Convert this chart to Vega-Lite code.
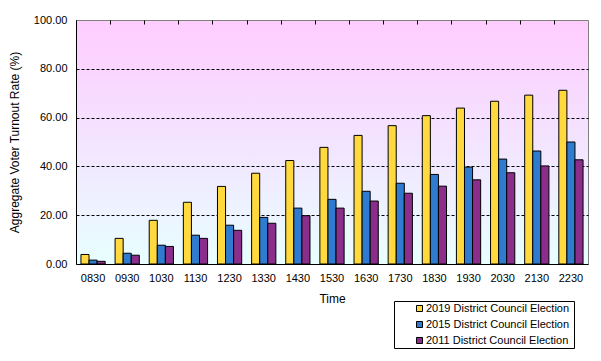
{
  "$schema": "https://vega.github.io/schema/vega-lite/v6.json",
  "width": 512,
  "height": 244,
  "autosize": "none",
  "padding": {"left": 76, "top": 20, "right": 13, "bottom": 97},
  "background": "white",
  "config": {
    "font": "Liberation Sans",
    "view": {
      "stroke": "#808080",
      "strokeWidth": 1,
      "fill": {"gradient": "linear", "x1": 0, "y1": 0, "x2": 0, "y2": 1,
        "stops": [{"offset": 0, "color": "#FFCCFF"}, {"offset": 0.5, "color": "#F3E4FF"}, {"offset": 1, "color": "#E8FFFF"}]}
    }
  },
  "data": {"values": [
    {"time": "0830", "2019 District Council Election": 3.9, "2015 District Council Election": 1.6, "2011 District Council Election": 1.1},
    {"time": "0930", "2019 District Council Election": 10.5, "2015 District Council Election": 4.4, "2011 District Council Election": 3.6},
    {"time": "1030", "2019 District Council Election": 17.9, "2015 District Council Election": 7.7, "2011 District Council Election": 7.2},
    {"time": "1130", "2019 District Council Election": 25.3, "2015 District Council Election": 11.8, "2011 District Council Election": 10.5},
    {"time": "1230", "2019 District Council Election": 31.8, "2015 District Council Election": 15.9, "2011 District Council Election": 13.8},
    {"time": "1330", "2019 District Council Election": 37.2, "2015 District Council Election": 19.1, "2011 District Council Election": 16.7},
    {"time": "1430", "2019 District Council Election": 42.4, "2015 District Council Election": 22.9, "2011 District Council Election": 19.8},
    {"time": "1530", "2019 District Council Election": 47.8, "2015 District Council Election": 26.5, "2011 District Council Election": 22.9},
    {"time": "1630", "2019 District Council Election": 52.7, "2015 District Council Election": 29.8, "2011 District Council Election": 25.8},
    {"time": "1730", "2019 District Council Election": 56.7, "2015 District Council Election": 33.1, "2011 District Council Election": 29.0},
    {"time": "1830", "2019 District Council Election": 60.8, "2015 District Council Election": 36.7, "2011 District Council Election": 31.9},
    {"time": "1930", "2019 District Council Election": 63.9, "2015 District Council Election": 39.7, "2011 District Council Election": 34.5},
    {"time": "2030", "2019 District Council Election": 66.7, "2015 District Council Election": 43.0, "2011 District Council Election": 37.4},
    {"time": "2130", "2019 District Council Election": 69.2, "2015 District Council Election": 46.3, "2011 District Council Election": 40.2},
    {"time": "2230", "2019 District Council Election": 71.2, "2015 District Council Election": 50.0, "2011 District Council Election": 42.7}
  ]},
  "transform": [
    {"fold": ["2019 District Council Election", "2015 District Council Election", "2011 District Council Election"], "as": ["election", "rate"]}
  ],
  "layer": [
    {
      "mark": {"type": "bar", "stroke": "black", "strokeWidth": 1},
      "encoding": {
        "x": {
          "field": "time", "type": "nominal", "sort": null,
          "scale": {"paddingInner": 0.29, "paddingOuter": 0.145},
          "axis": {"title": "Time", "labelAngle": 0, "ticks": false, "domainColor": "black",
            "labelFontSize": 11, "labelColor": "black", "labelPadding": 8,
            "titleFontSize": 12, "titleFontWeight": "normal", "titleColor": "black", "titlePadding": 10}
        },
        "xOffset": {"field": "election", "type": "nominal", "sort": null, "scale": {"paddingInner": 0, "paddingOuter": 0}},
        "y": {
          "field": "rate", "type": "quantitative",
          "scale": {"domain": [0, 100], "nice": false},
          "axis": {"title": "Aggregate Voter Turnout Rate (%)", "format": ".2f", "values": [0, 20, 40, 60, 80, 100],
            "ticks": false, "grid": true, "gridColor": "black", "gridDash": [3, 2], "gridWidth": 1,
            "gridOpacity": {"condition": {"test": "datum.value == 0 || datum.value == 100", "value": 0}, "value": 1},
            "domainColor": "black", "labelFontSize": 11, "labelColor": "black", "labelPadding": 9,
            "titleFontSize": 12, "titleFontWeight": "normal", "titleColor": "black", "titlePadding": 12}
        },
        "color": {
          "field": "election", "type": "nominal", "sort": null,
          "scale": {"range": ["#FFD93D", "#2E7BCF", "#8B2D8B"]},
          "legend": {"orient": "none", "legendX": 318, "legendY": 281, "title": "\u00a0",
            "titleOrient": "right", "titlePadding": 3, "titleFontSize": 11,
            "strokeColor": "black", "fillColor": "white", "padding": 2, "rowPadding": 4,
            "symbolType": "square", "symbolSize": 36, "symbolStrokeColor": "black", "symbolStrokeWidth": 1,
            "symbolOffset": 18, "labelOffset": 1, "labelFontSize": 11, "labelColor": "black", "labelLimit": 300}
        }
      }
    },
    {
      "mark": {"type": "point", "opacity": 0},
      "encoding": {
        "x": {"field": "time", "type": "nominal", "sort": null,
          "axis": {"labels": false, "domain": false, "title": null, "ticks": true, "tickSize": -4,
            "bandPosition": 0, "tickOffset": -5, "tickColor": "black", "grid": false}}
      }
    }
  ],
  "resolve": {"axis": {"x": "independent"}}
}
